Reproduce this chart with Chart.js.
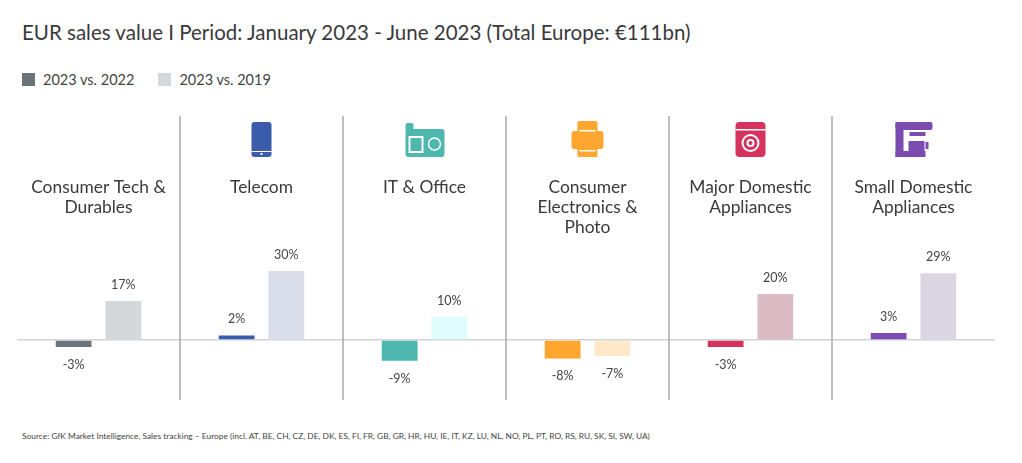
<!DOCTYPE html>
<html>
<head>
<meta charset="utf-8">
<script src="https://cdn.jsdelivr.net/npm/chart.js@4"></script>
<style>
  body { margin: 0; background: #fff; font-family: Lato, sans-serif; color: #333; }
  #wrap { position: relative; width: 1022px; height: 463px; }
  #title { position: absolute; left: 22px; top: 20px; font-size: 20.5px; color: #3a3a3a; }
  #legend { position: absolute; left: 22px; top: 71px; font-size: 14.5px; color: #444; }
  #legend span.sw { display: inline-block; width: 13px; height: 13px; vertical-align: -1px; margin-right: 8px; }
  #source { position: absolute; left: 22px; top: 431px; font-size: 8.4px; color: #444; }
  canvas { position: absolute; left: 0; top: 0; }
</style>
</head>
<body>
<div id="wrap">
  <div id="title">EUR sales value I Period: January 2023 - June 2023 (Total Europe: €111bn)</div>
  <div id="legend"><span class="sw" style="background:#6b747b"></span>2023 vs. 2022<span class="sw" style="background:#d5d8da;margin-left:24px"></span>2023 vs. 2019</div>
  <div id="source">Source: GfK Market Intelligence, Sales tracking – Europe (incl. AT, BE, CH, CZ, DE, DK, ES, FI, FR, GB, GR, HR, HU, IE, IT, KZ, LU, NL, NO, PL, PT, RO, RS, RU, SK, SI, SW, UA)</div>
  <canvas id="myChart" width="1022" height="463"></canvas>
</div>
<script>
// categories and values
const categories = [
  ["Consumer Tech &", "Durables"],
  ["Telecom"],
  ["IT & Office"],
  ["Consumer", "Electronics &", "Photo"],
  ["Major Domestic", "Appliances"],
  ["Small Domestic", "Appliances"],
];
const vs2022 = [-3, 2, -9, -8, -3, 3];
const vs2019 = [17, 30, 10, -7, 20, 29];
const colors2022 = ["#6b747b", "#3a5cab", "#4fb8ae", "#ffa630", "#d6325e", "#7b4bb0"];
const colors2019 = ["#d5d8da", "#dadeea", "#e0fcfd", "#fde8c8", "#dcbcc4", "#dcd6e3"];

function rr(c, x, y, w, h, r, col) {
  c.fillStyle = col;
  c.beginPath();
  c.roundRect(x, y, w, h, r);
  c.fill();
}

function drawIcon(c, i, cx, cy, col) {
  c.save();
  if (i === 1) {
    rr(c, cx - 10, cy - 17, 20, 35, 3, col);
    c.fillStyle = "#fff";
    c.fillRect(cx - 10, cy + 12, 20, 1);
    c.fillRect(cx - 1, cy + 14, 2, 2);
  } else if (i === 2) {
    rr(c, cx - 19, cy - 10, 39, 28, 3, col);
    rr(c, cx - 19, cy - 16, 8, 8, 2, col);
    c.fillStyle = "#fff";
    c.fillRect(cx - 16, cy - 3, 15, 17);
    c.fillStyle = col;
    c.fillRect(cx - 14, cy - 1, 11, 13);
    c.strokeStyle = "#fff"; c.lineWidth = 1.5;
    c.beginPath(); c.arc(cx + 10, cy + 5, 6, 0, Math.PI * 2); c.stroke();
  } else if (i === 3) {
    rr(c, cx - 10, cy - 18, 20, 12, 2, col);
    rr(c, cx - 16, cy - 8, 32, 18, 3, col);
    rr(c, cx - 10, cy + 8, 20, 10, 1, col);
    c.fillStyle = "#fff";
    c.fillRect(cx - 8, cy + 11, 16, 1.5);
    c.fillRect(cx - 8, cy - 9, 16, 1.5);
  } else if (i === 4) {
    rr(c, cx - 15, cy - 17, 30, 35, 4, col);
    c.fillStyle = "#fff";
    c.fillRect(cx - 15, cy - 10, 30, 1.5);
    c.strokeStyle = "#fff"; c.lineWidth = 2;
    c.beginPath(); c.arc(cx, cy + 4, 8, 0, Math.PI * 2); c.stroke();
    c.beginPath(); c.arc(cx, cy + 4, 3, 0, Math.PI * 2); c.stroke();
  } else if (i === 5) {
    rr(c, cx - 18, cy - 17, 37, 8, 2, col);
    c.fillStyle = col;
    c.fillRect(cx - 18, cy - 17, 8, 35);
    c.fillRect(cx - 18, cy + 12, 30, 6);
    c.fillRect(cx - 4, cy - 7, 16, 4);
    c.fillRect(cx - 5, cy + 2, 16, 10);
    c.fillRect(cx + 12, cy + 3, 3, 7);
  }
  c.restore();
}

const decor = {
  id: "decor",
  beforeDatasetsDraw(chart) {
    const c = chart.ctx, a = chart.chartArea, x = chart.scales.x;
    c.save();
    c.strokeStyle = "#a9a9a9"; c.lineWidth = 1.5;
    for (let i = 1; i < categories.length; i++) {
      const xx = (x.getPixelForValue(i - 1) + x.getPixelForValue(i)) / 2;
      c.beginPath(); c.moveTo(xx, a.top); c.lineTo(xx, a.bottom); c.stroke();
    }
    c.fillStyle = "#3a3a3a";
    c.font = "17.4px Lato";
    c.textAlign = "center"; c.textBaseline = "middle";
    categories.forEach((lines, i) => {
      const cx = x.getPixelForValue(i);
      lines.forEach((l, j) => c.fillText(l, cx, 187 + j * 20));
      drawIcon(c, i, cx, 139, colors2022[i]);
    });
    c.restore();
  },
  afterDatasetsDraw(chart) {
    const c = chart.ctx;
    c.save();
    c.fillStyle = "#444"; c.font = "12.5px Lato";
    c.textAlign = "center"; c.textBaseline = "middle";
    chart.data.datasets.forEach((ds, d) => {
      chart.getDatasetMeta(d).data.forEach((bar, i) => {
        const v = ds.data[i];
        const y = v >= 0 ? bar.y - 16 : bar.y + 18;
        c.fillText(v + "%", bar.x, y);
      });
    });
    c.restore();
  },
};

const config = {
  type: "bar",
  data: {
    labels: categories,
    datasets: [
      { label: "2023 vs. 2022", data: vs2022, backgroundColor: colors2022 },
      { label: "2023 vs. 2019", data: vs2019, backgroundColor: colors2019 },
    ],
  },
  options: {
    responsive: false,
    animation: false,
    layout: { padding: { left: 17, right: 27, top: 116, bottom: 63 } },
    categoryPercentage: 0.61,
    barPercentage: 0.72,
    plugins: { legend: { display: false }, tooltip: { enabled: false } },
    scales: {
      x: { display: false },
      y: {
        min: -26.1, max: 97.4,
        ticks: { display: false },
        border: { display: false },
        grid: {
          drawTicks: false,
          color: (ctx) => (ctx.tick && ctx.tick.value === 0 ? "#cfd3d8" : "transparent"),
          lineWidth: 1.5,
        },
        afterBuildTicks: (s) => { s.ticks = [{ value: 0 }]; },
      },
    },
  },
  plugins: [decor],
};

ctx = document.querySelector("#myChart");
const myChart = new Chart(ctx, config);
</script>
</body>
</html>
